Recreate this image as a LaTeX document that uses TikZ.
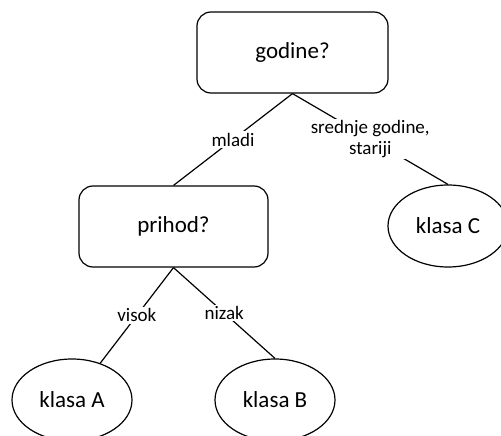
\documentclass[tikz,border=0pt]{standalone}
\usepackage{fontspec}
\setmainfont{Carlito}
\usetikzlibrary{shapes.geometric}
\begin{document}
\begin{tikzpicture}[x=1pt,y=-1pt,
  qbox/.style={draw,line width=1.2pt,rounded corners=14pt,minimum width=191pt,minimum height=81pt,inner sep=0pt,font=\fontsize{23}{27}\selectfont},
  leaf/.style={draw,ellipse,line width=1.2pt,minimum width=120pt,minimum height=82pt,inner sep=0pt,font=\fontsize{23}{27}\selectfont},
  edge/.style={line width=1.2pt},
  lbl/.style={fill=white,inner sep=1.5pt,align=center,font=\fontsize{19}{21}\selectfont}]
\useasboundingbox (0,0) rectangle (501,436);
\clip (0,0) rectangle (501,436);
\node[qbox] (godine) at (292.5,52.5) {godine?};
\node[qbox,minimum width=189pt] (prihod) at (173.5,226.5) {prihod?};
\node[leaf] (klasaC) at (448,226) {klasa C};
\node[leaf] (klasaA) at (72,400) {klasa A};
\node[leaf] (klasaB) at (275,400) {klasa B};
\draw[edge] (godine.south) -- node[lbl] {mladi} (prihod.north);
\draw[edge] (godine.south) -- node[lbl] {srednje godine,\\stariji} (klasaC.north);
\draw[edge] (prihod.south) -- node[lbl] {visok} (klasaA);
\draw[edge] (prihod.south) -- node[lbl] {nizak} (klasaB.north);
\end{tikzpicture}
\end{document}
